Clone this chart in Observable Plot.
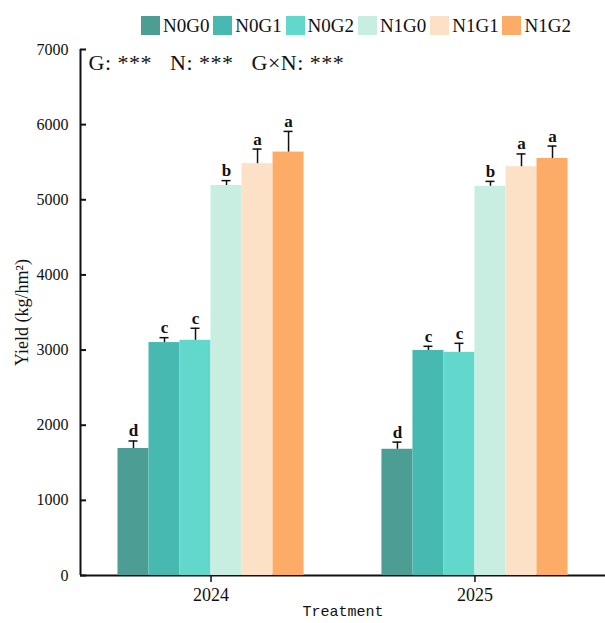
<!DOCTYPE html>
<html>
<head>
<meta charset="utf-8">
<script src="https://cdn.jsdelivr.net/npm/d3@7"></script>
<script src="https://cdn.jsdelivr.net/npm/@observablehq/plot@0.6"></script>
<style>
  html, body { margin: 0; padding: 0; background: #fff; }
  #wrap { position: relative; width: 605px; height: 623px; overflow: hidden; }
  #wrap svg { position: absolute; left: 0; top: 0; font-family: "Liberation Serif", "Times New Roman", serif; }
  #wrap svg text { white-space: pre; }
  #legend { position: absolute; left: 141px; top: 16px; display: flex; font-family: "Liberation Serif", serif; font-size: 19px; color: #111; }
  .item { display: flex; align-items: center; width: 72.3px; height: 19px; }
  .sw { width: 19px; height: 19px; margin-right: 3px; flex: none; }
</style>
</head>
<body>
<div id="wrap"></div>
<script>
// ---- data ----
const years = ["2024", "2025"];
const treatments = ["N0G0", "N0G1", "N0G2", "N1G0", "N1G1", "N1G2"];
const colors = ["#4c9d94", "#47b9b0", "#62d7cc", "#c8eee1", "#fde1c6", "#fdac68"];
const values2024 = [1690, 3100, 3130, 5190, 5480, 5635];
const errors2024 = [100, 65, 160, 65, 195, 275];
const letters2024 = ["d", "c", "c", "b", "a", "a"];
const values2025 = [1680, 2995, 2970, 5180, 5440, 5550];
const errors2025 = [95, 55, 120, 65, 170, 165];
const letters2025 = ["d", "c", "c", "b", "a", "a"];
const yTicks = [0, 1000, 2000, 3000, 4000, 5000, 6000, 7000];
const yLabel = "Yield (kg/hm²)";
const xLabel = "Treatment";
const annotation = "G: ***   N: ***   G×N: ***";

const rows = [];
treatments.forEach((t, i) => {
  rows.push({year: "2024", trt: t, value: values2024[i], err: errors2024[i], letter: letters2024[i]});
  rows.push({year: "2025", trt: t, value: values2025[i], err: errors2025[i], letter: letters2025[i]});
});

const W = 605, H = 623;
const M = {marginLeft: 80, marginRight: 0, marginTop: 49, marginBottom: 48};

// ---- axes layer ----
const axes = Plot.plot({
  width: W, height: H, ...M,
  style: {background: "transparent", color: "#111"},
  x: {domain: [0, 1], axis: null},
  y: {domain: [0, 7000], axis: null},
  marks: [
    Plot.axisY(yTicks, {tickSize: 0, tickPadding: 12, fontSize: 16, label: null, tickFormat: d => String(d)}),
    Plot.ruleY(yTicks, {y: d => d, insetRight: W - M.marginLeft - M.marginRight - 6, stroke: "#111", strokeWidth: 2}),
    Plot.ruleX([0], {stroke: "#111", strokeWidth: 2}),
    Plot.ruleY([0], {stroke: "#111", strokeWidth: 2}),
    Plot.text([yLabel], {frameAnchor: "left", textAnchor: "middle", lineAnchor: "middle", rotate: -90, dx: -58, fontSize: 18, fill: "#111"}),
    Plot.text([annotation], {frameAnchor: "top-left", textAnchor: "start", lineAnchor: "middle", dx: 8, dy: 13, fontSize: 22, fill: "#111"}),
    Plot.text([xLabel], {frameAnchor: "bottom", textAnchor: "middle", lineAnchor: "middle", dy: 36, fontSize: 15, fill: "#111"})
  ]
});

// ---- bars layer ----
const bars = Plot.plot({
  width: W, height: H, ...M,
  style: {background: "transparent", color: "#111"},
  fx: {domain: years, paddingInner: 0.295, paddingOuter: 0.142, round: false, label: null},
  x: {domain: treatments, padding: 0, round: false, axis: null},
  y: {domain: [0, 7000], axis: null},
  color: {domain: treatments, range: colors},
  marks: [
    Plot.barY(rows, {fx: "year", x: "trt", y: "value", fill: "trt"}),
    Plot.ruleX(rows, {fx: "year", x: "trt", y1: "value", y2: d => d.value + d.err, stroke: "#111", strokeWidth: 1.5}),
    Plot.tickY(rows, {fx: "year", x: "trt", y: d => d.value + d.err, insetLeft: 11, insetRight: 11, stroke: "#111", strokeWidth: 1.5}),
    Plot.text(rows, {fx: "year", x: "trt", y: d => d.value + d.err, text: "letter", dy: -10, fontSize: 17, fontWeight: "bold", fill: "#111"}),
    Plot.axisFx({anchor: "bottom", tickSize: 7, tickPadding: 6, fontSize: 18, label: null, stroke: "#111", strokeWidth: 1.5})
  ]
});

// force fonts inline (overrides any library stylesheet)
for (const svg of [axes, bars]) {
  d3.select(svg).selectAll("text").style("font-family", "'Liberation Serif', 'Times New Roman', serif");
}
d3.select(axes).selectAll("text")
  .filter(function () { return this.textContent === annotation; })
  .style("letter-spacing", "0.5px");
d3.select(axes).selectAll("text")
  .filter(function () { return this.textContent === xLabel; })
  .style("font-family", "'Liberation Mono', monospace");

const wrap = document.getElementById("wrap");
wrap.appendChild(axes);
wrap.appendChild(bars);

// ---- legend ----
const legend = document.createElement("div");
legend.id = "legend";
treatments.forEach((t, i) => {
  const it = document.createElement("div");
  it.className = "item";
  const sw = document.createElement("span");
  sw.className = "sw";
  sw.style.background = colors[i];
  const lb = document.createElement("span");
  lb.textContent = t;
  it.appendChild(sw);
  it.appendChild(lb);
  legend.appendChild(it);
});
wrap.appendChild(legend);
</script>
</body>
</html>
